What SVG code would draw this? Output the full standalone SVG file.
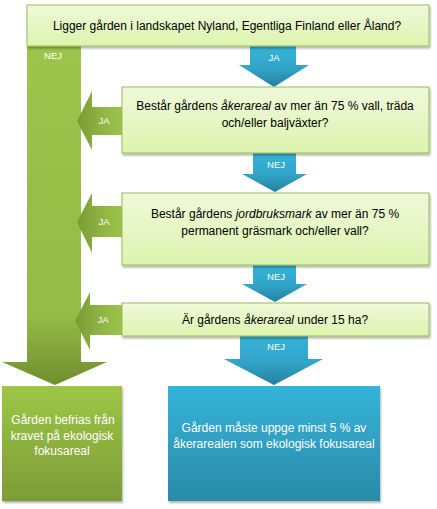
<svg xmlns="http://www.w3.org/2000/svg" width="437" height="509" viewBox="0 0 437 509">
<defs>
<linearGradient id="gBox" x1="0" y1="0" x2="0" y2="1"><stop offset="0" stop-color="#eff9da"/><stop offset="1" stop-color="#ddf4ae"/></linearGradient>
<linearGradient id="gGreenEnd" x1="0" y1="0" x2="0" y2="1"><stop offset="0" stop-color="#9ec646"/><stop offset="1" stop-color="#7d9c37"/></linearGradient>
<linearGradient id="gBlueEnd" x1="0" y1="0" x2="0" y2="1"><stop offset="0" stop-color="#35b4d9"/><stop offset="1" stop-color="#2a8aa8"/></linearGradient>
<linearGradient id="gBlueArr" x1="0" y1="0" x2="0" y2="1"><stop offset="0" stop-color="#36b3d8"/><stop offset="0.55" stop-color="#31a4c8"/><stop offset="1" stop-color="#25809e"/></linearGradient>
<linearGradient id="gBar" gradientUnits="userSpaceOnUse" x1="0" y1="46" x2="0" y2="385"><stop offset="0" stop-color="#9dc44b"/><stop offset="0.8" stop-color="#95ba46"/><stop offset="1" stop-color="#6f8e2e"/></linearGradient>
<linearGradient id="gLeft" x1="0" y1="0" x2="1" y2="0"><stop offset="0" stop-color="#7a9b35"/><stop offset="0.5" stop-color="#8eb242"/><stop offset="1" stop-color="#9dc44b"/></linearGradient>
<filter id="sh" x="-10%" y="-10%" width="120%" height="130%"><feDropShadow dx="1" dy="2" stdDeviation="1.2" flood-color="#000" flood-opacity="0.3"/></filter>
</defs>
<style>
.box{fill:url(#gBox);stroke:#9bbb59;stroke-width:1;filter:url(#sh)}
.t{font-family:"Liberation Sans",Arial,sans-serif;font-size:12px;fill:#000;text-anchor:middle}
.tw{font-family:"Liberation Sans",Arial,sans-serif;font-size:12px;fill:#fff;text-anchor:middle}
.lbl{font-family:"Liberation Sans",Arial,sans-serif;font-size:9.5px;fill:#fff;text-anchor:middle}
.blue{fill:url(#gBlueArr)}
.left{fill:url(#gLeft)}
</style>
<g id="connectors">
<g id="bar-nej">
<polygon points="27,46 81,46 81,362 107,362 55,385 2,362 27,362" fill="url(#gBar)"/>
<text class="lbl" x="53" y="59">NEJ</text>
</g>
<g id="ja1"><polygon class="blue" points="250,46 296,46 296,65 309,65 274,87 239,65 250,65"/><text class="lbl" x="274" y="61">JA</text></g>
<g id="nej2"><polygon class="blue" points="253,153 296,153 296,174 307,174 275,192 242,174 253,174"/><text class="lbl" x="276" y="168">NEJ</text></g>
<g id="nej3"><polygon class="blue" points="253,265 296,265 296,284 307,284 275,302 242,284 253,284"/><text class="lbl" x="276" y="280">NEJ</text></g>
<g id="nej4"><polygon class="blue" points="240,336 308,336 308,359 323,359 274,385 224,359 240,359"/><text class="lbl" x="276" y="350">NEJ</text></g>
<g id="ja2"><polygon class="left" points="122,107 92,107 92,91 77,121 92,150 92,135 122,135"/><text class="lbl" x="104" y="124">JA</text></g>
<g id="ja3"><polygon class="left" points="122,206 92,206 92,193 77,222 92,253 92,237 122,237"/><text class="lbl" x="104" y="225">JA</text></g>
<g id="ja4"><polygon class="left" points="122,305 90,305 90,292 75,321 90,350 90,335 122,335"/><text class="lbl" x="103" y="323">JA</text></g>
</g>
<g id="q1"><rect class="box" x="27" y="5" width="402" height="41"/><text class="t" x="227" y="30">Ligger gården i landskapet Nyland, Egentliga Finland eller Åland?</text></g>
<g id="q2"><rect class="box" x="122" y="87" width="307" height="66"/><text class="t" x="275" y="110">Består gårdens <tspan font-style="italic">åkerareal</tspan> av mer än 75 % vall, träda</text><text class="t" x="275" y="127">och/eller baljväxter?</text></g>
<g id="q3"><rect class="box" x="122" y="193" width="307" height="72"/><text class="t" x="275" y="218">Består gårdens <tspan font-style="italic">jordbruksmark</tspan> av mer än 75 %</text><text class="t" x="275" y="235">permanent gräsmark och/eller vall?</text></g>
<g id="q4"><rect class="box" x="122" y="303" width="307" height="33"/><text class="t" x="275" y="324">Är gårdens <tspan font-style="italic">åkerareal</tspan> under 15 ha?</text></g>
<g id="end-exempt"><rect x="2" y="386" width="120" height="115" fill="url(#gGreenEnd)" filter="url(#sh)"/><text class="tw" x="63" y="424">Gården befrias från</text><text class="tw" x="62" y="440">kravet på ekologisk</text><text class="tw" x="62" y="455">fokusareal</text></g>
<g id="end-required"><rect x="168" y="386" width="212" height="115" fill="url(#gBlueEnd)" filter="url(#sh)"/><text class="tw" x="274" y="432">Gården måste uppge minst 5 % av</text><text class="tw" x="274" y="448">åkerarealen som ekologisk fokusareal</text></g>
</svg>
